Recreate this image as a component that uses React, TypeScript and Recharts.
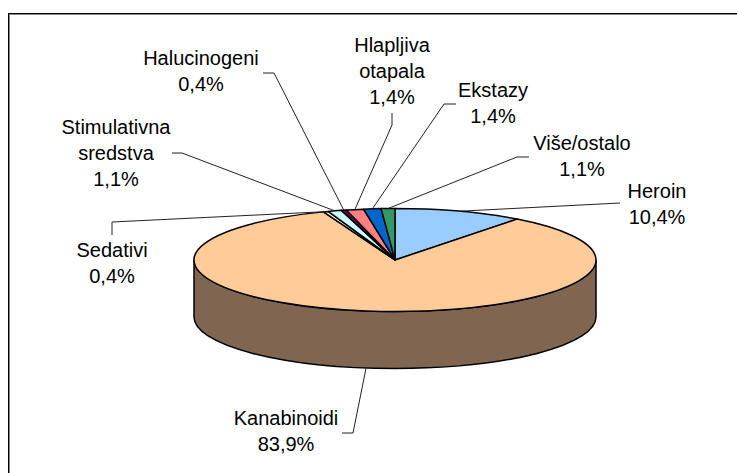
import { Pie, PieChart } from "recharts";

const categories = [
  "Heroin",
  "Kanabinoidi",
  "Sedativi",
  "Stimulativna sredstva",
  "Halucinogeni",
  "Hlapljiva otapala",
  "Ekstazy",
  "Više/ostalo",
];
const shares = [10.4, 83.9, 0.4, 1.1, 0.4, 1.4, 1.4, 1.1];
const sliceColors = ["#99CCFF", "#FFCC99", "#FFFFCC", "#CCFFFF", "#660066", "#FF8080", "#0066CC", "#339966"];

const data = categories.map((name, i) => ({ name, value: shares[i], fill: sliceColors[i] }));

// pie is flattened to fake the old excel 3d look
const SQUASH = 51.5 / 201;
const DEPTH = 57;
const WALL = "#806650";
const RAD = Math.PI / 180;

// text centre, first baseline and the elbow of the leader for each label
const labelLayout: any = {
  Heroin: { x: 657, y: 198, lines: ["Heroin"], leader: [[620, 203]] },
  Kanabinoidi: { x: 286, y: 425, lines: ["Kanabinoidi"], leader: [[342, 433], [353, 433]] },
  Sedativi: { x: 112, y: 257, lines: ["Sedativi"], leader: [[112, 235], [112, 222]] },
  "Stimulativna sredstva": { x: 116, y: 134, lines: ["Stimulativna", "sredstva"], leader: [[172, 153], [182, 153]] },
  Halucinogeni: { x: 201, y: 65, lines: ["Halucinogeni"], leader: [[263, 73], [274, 73]] },
  "Hlapljiva otapala": { x: 392, y: 52, lines: ["Hlapljiva", "otapala"], leader: [[392, 113], [392, 125]] },
  Ekstazy: { x: 493, y: 97, lines: ["Ekstazy"], leader: [[456, 104], [444, 104]] },
  "Više/ostalo": { x: 582, y: 150, lines: ["Više/ostalo"], leader: [[529, 157], [517, 157]] },
};

const rim = (cx: number, cy: number, r: number, angle: number) => [
  cx + r * Math.cos(angle * RAD),
  cy - r * SQUASH * Math.sin(angle * RAD),
];

const FlatSlice = (props: any) => {
  const { cx, cy, outerRadius: r, startAngle, endAngle, fill, name } = props;
  const ry = r * SQUASH;
  const [x0, y0] = rim(cx, cy, r, startAngle);
  const [x1, y1] = rim(cx, cy, r, endAngle);
  const large = Math.abs(startAngle - endAngle) > 180 ? 1 : 0;
  const top = `M${cx},${cy}L${x0},${y0}A${r},${ry} 0 ${large} 1 ${x1},${y1}Z`;
  const wall =
    `M${cx - r},${cy}A${r},${ry} 0 0 0 ${cx + r},${cy}` +
    `L${cx + r},${cy + DEPTH}A${r},${ry} 0 0 1 ${cx - r},${cy + DEPTH}Z`;
  return (
    <g>
      {name === "Kanabinoidi" && <path d={wall} fill={WALL} stroke="#000" strokeWidth={1.5} />}
      <path d={top} fill={fill} stroke="#000" strokeWidth={1.5} strokeLinejoin="round" />
    </g>
  );
};

const SliceLabel = (props: any) => {
  const { cx, cy, outerRadius, midAngle, name, value } = props;
  const layout = labelLayout[name];
  if (!layout) return null;
  const [ax, ay] = rim(cx, cy, outerRadius, midAngle);
  const anchorY = name === "Kanabinoidi" ? ay + DEPTH : ay;
  const points = [...layout.leader, [ax, anchorY]].map((p: number[]) => p.join(",")).join(" ");
  const rows = [...layout.lines, `${String(value).replace(".", ",")}%`];
  return (
    <g>
      <polyline points={points} fill="none" stroke="#222" strokeWidth={1} />
      {rows.map((row: string, i: number) => (
        <text
          key={row}
          x={layout.x}
          y={layout.y + i * 26}
          textAnchor="middle"
          fontFamily="Liberation Sans, Arial, sans-serif"
          fontSize={20}
          fill="#000"
        >
          {row}
        </text>
      ))}
    </g>
  );
};

export default function App() {
  return (
    <div
      style={{
        position: "absolute",
        left: 0,
        top: 0,
        width: 737,
        height: 473,
        background: "#fff",
        overflow: "hidden",
      }}
    >
      {/* frame runs off the right and bottom of the image */}
      <div
        style={{
          position: "absolute",
          left: 8,
          top: 13,
          width: 800,
          height: 600,
          border: "1px solid #000",
          boxShadow: "inset 1px 1px 0 #888",
        }}
      />
      <PieChart width={737} height={473} margin={{ top: 0, right: 0, bottom: 0, left: 0 }}>
        <Pie
          data={data}
          dataKey="value"
          nameKey="name"
          cx={395}
          cy={260}
          outerRadius={201}
          startAngle={90}
          endAngle={-270}
          isAnimationActive={false}
          shape={FlatSlice}
          label={SliceLabel}
          labelLine={false}
        />
      </PieChart>
    </div>
  );
}
